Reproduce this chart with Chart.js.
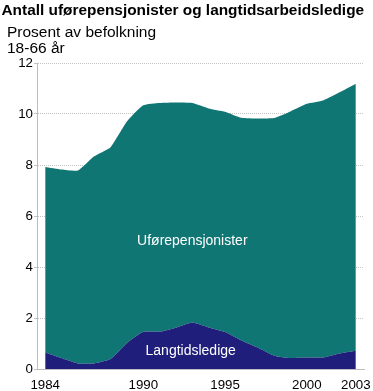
<!DOCTYPE html>
<html>
<head>
  <meta charset="UTF-8">
  <title>Antall uførepensjonister og langtidsarbeidsledige</title>
  <script src="https://cdn.jsdelivr.net/npm/chart.js@4.4.1/dist/chart.umd.min.js"></script>
  <style>
    html, body { margin: 0; padding: 0; background: #fff; }
    #wrap { position: relative; width: 373px; height: 391px; }
  </style>
</head>
<body>
<div id="wrap"><canvas id="chart" width="373" height="391"></canvas></div>
<script>
const years = ['1984','1985','1986','1987','1988','1989','1990','1991','1992','1993',
               '1994','1995','1996','1997','1998','1999','2000','2001','2002','2003'];
const shownYears = ['1984', '1990', '1995', '2000', '2003'];
// prosent av befolkning 18-66 år
const langtidsledige = [0.65, 0.43, 0.22, 0.22, 0.39, 1.02, 1.46, 1.46, 1.62, 1.82,
                        1.63, 1.45, 1.12, 0.84, 0.52, 0.43, 0.45, 0.45, 0.61, 0.72];
const uforepensjonister = [7.27, 7.39, 7.56, 8.12, 8.31, 8.69, 8.88, 8.97, 8.83, 8.61,
                           8.59, 8.64, 8.73, 8.98, 9.32, 9.67, 9.95, 10.08, 10.24, 10.47];
const yTicks = [0, 2, 4, 6, 8, 10, 12];

const FONT = '"Liberation Sans", Arial, sans-serif';

// titles and labels inside the areas
const textPlugin = {
  id: 'texts',
  afterDraw(chart) {
    const ctx = chart.ctx;
    const x = chart.scales.x, y = chart.scales.y;
    ctx.save();
    ctx.fillStyle = '#000';
    ctx.textBaseline = 'alphabetic';
    ctx.textAlign = 'left';
    ctx.font = 'bold 15.4px ' + FONT;
    ctx.fillText('Antall uførepensjonister og langtidsarbeidsledige', 1.5, 15);
    ctx.font = '15.5px ' + FONT;
    ctx.fillText('Prosent av befolkning', 7, 37);
    ctx.fillText('18-66 år', 7, 53);

    ctx.fillStyle = '#fff';
    ctx.textAlign = 'center';
    ctx.textBaseline = 'middle';
    ctx.font = '14px ' + FONT;
    ctx.fillText('Uførepensjonister', x.getPixelForValue(9), y.getPixelForValue(5.0));
    ctx.fillText('Langtidsledige', x.getPixelForValue(8.9), y.getPixelForValue(0.7));
    ctx.restore();
  }
};

new Chart(document.getElementById('chart'), {
  type: 'line',
  data: {
    labels: years,
    datasets: [
      {
        label: 'Langtidsledige',
        data: langtidsledige,
        backgroundColor: '#1f1f7b',
        borderWidth: 0,
        pointRadius: 0,
        fill: 'origin',
        tension: 0.15
      },
      {
        label: 'Uførepensjonister',
        data: uforepensjonister,
        backgroundColor: '#107674',
        borderWidth: 0,
        pointRadius: 0,
        fill: '-1',
        tension: 0.15
      }
    ]
  },
  options: {
    responsive: false,
    animation: false,
    layout: { padding: { top: 63, right: 9, left: 0, bottom: 0 } },
    plugins: {
      legend: { display: false },
      tooltip: { enabled: false }
    },
    scales: {
      x: {
        offset: true,
        grid: { display: false },
        border: { display: true, color: '#bdbdbd', width: 1 },
        ticks: {
          autoSkip: false,
          maxRotation: 0,
          padding: 0,
          color: '#000',
          font: { family: FONT, size: 13.3 },
          callback(val) {
            const lab = this.getLabelForValue(val);
            return shownYears.includes(lab) ? lab : '';
          }
        },
        afterFit(scale) { scale.height = 22; }
      },
      y: {
        stacked: true,
        min: 0,
        max: 12,
        afterBuildTicks(scale) { scale.ticks = yTicks.map(v => ({ value: v })); },
        grid: {
          color: '#c4c4c4',
          lineWidth: 1,
          tickLength: 3,
          tickColor: '#c4c4c4',
          tickBorderDash: []
        },
        border: { display: true, color: '#bdbdbd', width: 1, dash: [1, 1] },
        ticks: {
          padding: 1,
          color: '#000',
          font: { family: FONT, size: 13.3 }
        },
        afterFit(scale) { scale.width = 37; }
      }
    }
  },
  plugins: [textPlugin]
});
</script>
</body>
</html>
